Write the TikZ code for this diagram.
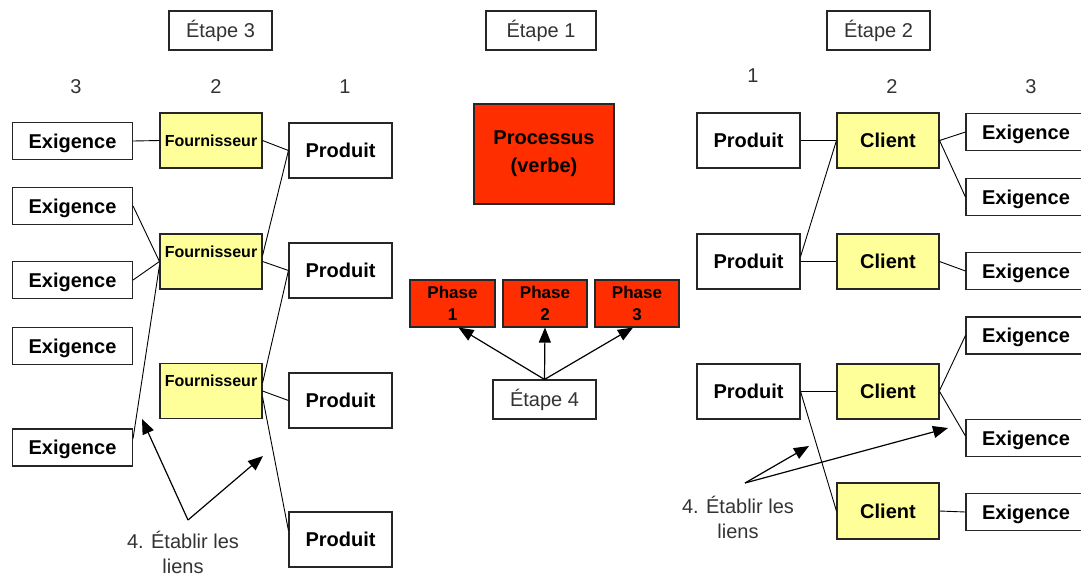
\documentclass[tikz,border=0pt]{standalone}
\usepackage{fontspec}
\setmainfont{Liberation Sans}
\usetikzlibrary{arrows.meta}
\definecolor{boxyellow}{HTML}{FFFF99}
\definecolor{boxred}{HTML}{FF2E00}
\definecolor{txtgray}{HTML}{333333}
\tikzset{
  base/.style={draw=black!85, line width=1.1pt, rectangle, inner sep=0pt, align=center},
  bold/.style={font=\bfseries\fontsize{20}{24}\selectfont, text depth=0pt},
  whitebox/.style={base, bold, fill=white, minimum width=103pt, minimum height=55pt},
  exbox/.style={base, bold, fill=white, minimum width=120pt, minimum height=37pt},
  clientbox/.style={base, bold, fill=boxyellow, minimum width=102pt, minimum height=55pt},
  fourbox/.style={base, fill=boxyellow, minimum width=102pt, minimum height=55pt, font=\bfseries\fontsize{16}{19}\selectfont},
  redbox/.style={base, fill=boxred, text=black},
  etapebox/.style={base, fill=white, minimum width=103pt, minimum height=39pt, font=\fontsize{20}{24}\selectfont, text=txtgray},
  plain/.style={font=\fontsize{20}{25}\selectfont, text=txtgray, align=center},
  link/.style={draw=black, line width=0.9pt},
  pointer/.style={draw=black, line width=1.2pt, -{Triangle[length=15pt, width=12pt]}}
}
\begin{document}
\begin{tikzpicture}[x=1pt, y=-1pt]
\useasboundingbox (0,0) rectangle (1081,576);

% ---------------- Left: Etape 3 ----------------
\node[etapebox] (et3) at (220.5,30.5) {Étape 3};
\node[plain] (n3a) at (76,87) {3};
\node[plain] (n3b) at (216,87) {2};
\node[plain] (n3c) at (345,87) {1};

\node[exbox] (E1) at (72.5,141) {Exigence};
\node[exbox] (E2) at (72.5,206) {Exigence};
\node[exbox] (E3) at (72.5,280) {Exigence};
\node[exbox] (E4) at (72.5,346) {Exigence};
\node[exbox] (E5) at (72.5,447.5) {Exigence};

\node[fourbox, text depth=0pt] (F1) at (211,140.5) {Fournisseur};
\node[fourbox, label={[font=\bfseries\fontsize{16}{19}\selectfont, anchor=center, yshift=-18pt]north:Fournisseur}] (F2) at (211,261.5) {};
\node[fourbox, label={[font=\bfseries\fontsize{16}{19}\selectfont, anchor=center, yshift=-18pt]north:Fournisseur}] (F3) at (211,391) {};

\node[whitebox] (P1) at (340.5,150.5) {Produit};
\node[whitebox] (P2) at (340.5,270.5) {Produit};
\node[whitebox] (P3) at (340.5,400.5) {Produit};
\node[whitebox] (P4) at (340.5,539.5) {Produit};

\draw[link] (E1.east) -- (F1.west);
\draw[link] (F1.east) -- (P1.west);
\draw[link] (P1.west) -- ([yshift=6pt]F2.east);
\draw[link] (F2.east) -- (P2.west);
\draw[link] (P2.west) -- ([yshift=8pt]F3.east);
\draw[link] (F3.east) -- (P3.west);
\draw[link] ([yshift=-6pt]F3.east) -- ([yshift=9pt]P4.west);
\draw[link] (E2.east) -- (F2.west);
\draw[link] (E3.east) -- (F2.west);
\draw[link] ([yshift=-4pt]F2.west) -- ([yshift=9pt]E5.east);

\coordinate (A3) at (188,520);
\coordinate (T3a) at (142,419);
\coordinate (T3b) at (263,456);
\draw[pointer] (A3) -- (T3a);
\draw[pointer] (A3) -- (T3b);
\node[plain] (L3) at (183,552) {4. Établir les\\liens};

% ---------------- Center: Etape 1 and 4 ----------------
\node[etapebox, minimum width=110pt] (et1) at (541,30.5) {Étape 1};
\node[redbox, minimum width=140pt, minimum height=100pt, font=\bfseries\fontsize{20}{28}\selectfont] (proc) at (544,154) {Processus\\(verbe)};
\node[redbox, minimum width=85pt, minimum height=47pt, font=\bfseries\fontsize{17}{22}\selectfont] (ph1) at (452.5,303.5) {Phase\\1};
\node[redbox, minimum width=84pt, minimum height=47pt, font=\bfseries\fontsize{17}{22}\selectfont] (ph2) at (545,303.5) {Phase\\2};
\node[redbox, minimum width=84pt, minimum height=47pt, font=\bfseries\fontsize{17}{22}\selectfont] (ph3) at (637,303.5) {Phase\\3};
\node[etapebox] (et4) at (544.5,399.5) {Étape 4};

\draw[pointer] (et4.north) -- ([xshift=6pt]ph1.south);
\draw[pointer] (et4.north) -- (ph2.south);
\draw[pointer] (et4.north) -- ([xshift=-4pt]ph3.south);

% ---------------- Right: Etape 2 ----------------
\node[etapebox] (et2) at (878.5,30.5) {Étape 2};
\node[plain] (n2a) at (753,76) {1};
\node[plain] (n2b) at (892,87) {2};
\node[plain] (n2c) at (1031,87) {3};

\node[whitebox] (RP1) at (748.5,140.5) {Produit};
\node[whitebox] (RP2) at (748.5,261.5) {Produit};
\node[whitebox] (RP3) at (748.5,391.5) {Produit};

\node[clientbox] (C1) at (888,140.5) {Client};
\node[clientbox] (C2) at (888,261.5) {Client};
\node[clientbox] (C3) at (888,391.5) {Client};
\node[clientbox, minimum height=56pt] (C4) at (888,511) {Client};

\node[exbox] (R1) at (1026,132) {Exigence};
\node[exbox] (R2) at (1026,197) {Exigence};
\node[exbox] (R3) at (1026,271) {Exigence};
\node[exbox] (R4) at (1026,335.5) {Exigence};
\node[exbox] (R5) at (1026,438) {Exigence};
\node[exbox] (R6) at (1026,512) {Exigence};

\draw[link] (RP1.east) -- (C1.west);
\draw[link] (C1.west) -- ([yshift=5pt]RP2.east);
\draw[link] (RP2.east) -- (C2.west);
\draw[link] (C1.east) -- (R1.west);
\draw[link] (C1.east) -- (R2.west);
\draw[link] (C2.east) -- (R3.west);
\draw[link] (RP3.east) -- (C3.west);
\draw[link] ([yshift=1pt]C3.east) -- (R4.west);
\draw[link] (C3.east) -- ([yshift=2pt]R5.west);
\draw[link] (RP3.east) -- (C4.west);
\draw[link] (C4.east) -- (R6.west);

\coordinate (A2) at (745,483);
\coordinate (T2a) at (809,446);
\coordinate (T2b) at (948,428);
\draw[pointer] (A2) -- (T2a);
\draw[pointer] (A2) -- (T2b);
\node[plain] (L2) at (738,517) {4. Établir les\\liens};
\end{tikzpicture}
\end{document}
